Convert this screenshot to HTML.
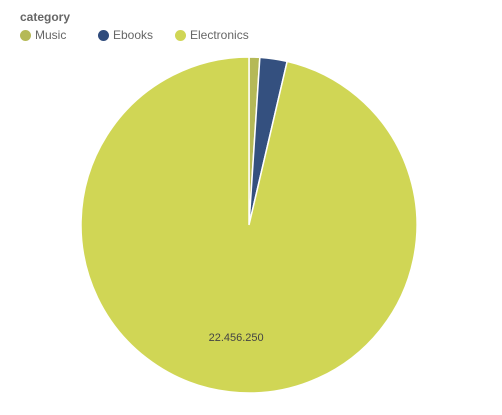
<!DOCTYPE html>
<html><head><meta charset="utf-8"><style>
body{margin:0;background:#fff;font-family:"Liberation Sans",sans-serif;}
#wrap{position:relative;width:502px;height:415px;overflow:hidden;}
.t{position:absolute;left:20px;top:10px;font-size:12px;font-weight:bold;color:#666;}
.leg{position:absolute;top:28px;font-size:12px;color:#666;display:flex;align-items:center;}
.dot{width:11px;height:11px;border-radius:50%;margin-right:4px;}
</style></head><body>
<div id="wrap">
<div class="t">category</div>
<div class="leg" style="left:20px"><div class="dot" style="background:#b5b957"></div>Music</div>
<div class="leg" style="left:98px"><div class="dot" style="background:#2f4b7c"></div>Ebooks</div>
<div class="leg" style="left:175px"><div class="dot" style="background:#d0d655"></div>Electronics</div>
<svg id="pie" width="502" height="415" style="position:absolute;left:0;top:0"></svg>
</div>
<script>
const categories=["Music","Ebooks","Electronics"];
const values=[240000,610000,22456250];
const colors=["#b5b957","#34507f","#d0d655"];
const svg=document.getElementById('pie');
const ns="http://www.w3.org/2000/svg";
const cx=249,cy=225,r=168;
const total=values.reduce((a,b)=>a+b,0);
let a0=0;
values.forEach((v,i)=>{
  const a1=a0+v/total*2*Math.PI;
  const x0=cx+r*Math.sin(a0),y0=cy-r*Math.cos(a0),x1=cx+r*Math.sin(a1),y1=cy-r*Math.cos(a1);
  const p=document.createElementNS(ns,'path');
  p.setAttribute('d',`M${cx},${cy}L${x0},${y0}A${r},${r} 0 ${a1-a0>Math.PI?1:0} 1 ${x1},${y1}Z`);
  p.setAttribute('fill',colors[i]);p.setAttribute('stroke','#fff');p.setAttribute('stroke-width','1.5');
  
  
  svg.appendChild(p);
  if(v/total>0.5){
    const mid=(a0+a1)/2;
    const t=document.createElementNS(ns,'text');
    t.setAttribute('x',cx+r*0.67*Math.sin(mid));t.setAttribute('y',cy-r*0.67*Math.cos(mid)+4);
    t.setAttribute('text-anchor','middle');t.setAttribute('font-size','11');t.setAttribute('fill','#444');
    t.setAttribute('font-family','Liberation Sans, sans-serif');
    t.textContent=v.toLocaleString('de-DE');
    
    
    svg.appendChild(t);
  }
  a0=a1;
});
</script>
</body></html>
